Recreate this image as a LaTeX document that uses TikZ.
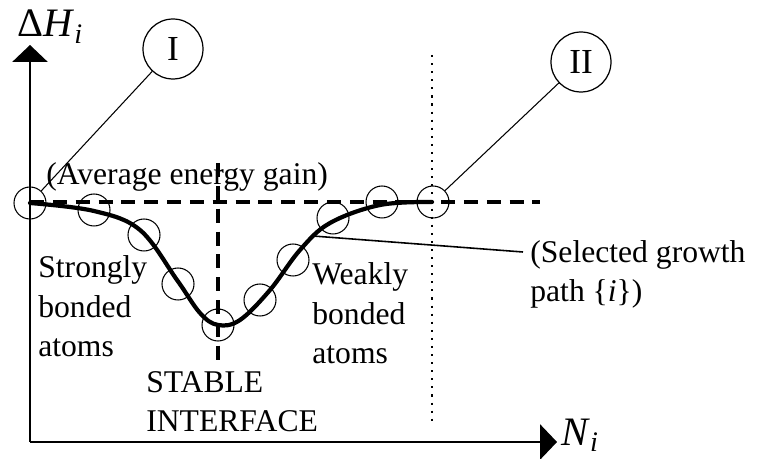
\documentclass[tikz,border=0pt]{standalone}
\usepackage{fontspec}
\setmainfont{Liberation Serif}
\usetikzlibrary{arrows.meta}

\begin{document}
\begin{tikzpicture}[x=0.02cm, y=-0.02cm,
    every node/.style={font=\fontsize{18}{22.7}\selectfont},
    axis/.style={line width=0.85pt},
    level/.style={line width=1.9pt, dash pattern=on 8pt off 5pt},
    bound/.style={line width=1.2pt, dash pattern=on 1.2pt off 3.4pt},
    path curve/.style={line width=2.4pt, line cap=round},
    atom/.style={draw, circle, line width=0.6pt, minimum size=0.64cm, inner sep=0pt},
    marker/.style={draw, circle, line width=0.7pt, minimum size=1.2cm, inner sep=0pt,
        font=\fontsize{20}{22}\selectfont},
    axlabel/.style={inner sep=0pt, font=\fontsize{23}{26}\selectfont},
    txt/.style={anchor=base west, inner sep=0pt, align=left}]

    % Fix the picture size
    \useasboundingbox (0,0) rectangle (758,459);

    % Draw axes
    \coordinate (origin) at (30,442);
    \coordinate (ytip) at (30,45);
    \coordinate (xtip) at (557,442);
    \draw[axis,-{Triangle[width=20pt,length=9.6pt]}] (origin) -- (ytip);
    \draw[axis,-{Triangle[width=20pt,length=9.6pt]}] (origin) -- (xtip);
    \node[axlabel, anchor=base west] (dH) at (17,37)
        {Δ\textit{H}\textsubscript{\textit{i}}};
    \node[axlabel, anchor=base west] (Ni) at (561,445)
        {\textit{N}\textsubscript{\textit{i}}};

    % Reference lines
    \draw[level] (30,202) -- (540,202);
    \draw[level] (218,163) -- (218,368);
    \draw[bound] (432,55) -- (432,425);

    % Draw the growth path
    \draw[path curve] plot[smooth, tension=0.6] coordinates {
        (30,203) (94,211) (140,230) (177,280) (200,313) (218,325)
        (240,320) (270,290) (300,250) (330,223) (380,205) (432,202)};
    \coordinate (pick) at (313,236);
    \coordinate (pickend) at (523,252);

    % Atoms along the path
    \foreach \n/\x/\y in {1/30/203, 2/94/210, 3/144/235, 4/178/284, 5/218/325,
                          6/260/300, 7/293/260, 8/333/218, 9/382/202, 10/433/202}
        \node[atom] (c\n) at (\x,\y) {};

    % Markers I and II
    \node[marker] (I) at (173,49) {I};
    \node[marker] (II) at (581,62) {II};
    \draw[line width=0.6pt] (I) -- (c1);
    \draw[line width=0.6pt] (II) -- (c10);

    % Labels (base = last line)
    \node[txt] (avg) at (46,185) {(Average energy gain)};
    \node[txt] (strong) at (38,357) {Strongly\\bonded\\atoms};
    \node[txt] (weak) at (312,364) {Weakly\\bonded\\atoms};
    \node[txt] (stable) at (146,432) {STABLE\\INTERFACE};
    \node[txt] (sel) at (530,302) {(Selected growth\\path \{\textit{i}\})};
    \draw[line width=0.9pt] (pick) -- (pickend);

\end{tikzpicture}
\end{document}
